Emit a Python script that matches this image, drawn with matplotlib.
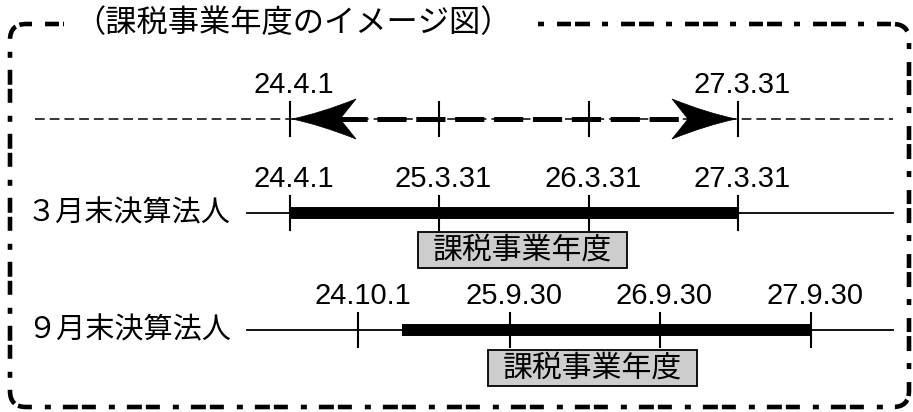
import matplotlib
matplotlib.use("Agg")
import matplotlib.pyplot as plt
import matplotlib.patches as mpatches
from matplotlib.path import Path

plt.rcParams['lines.scale_dashes'] = False
CJK = ['Noto Sans CJK JP', 'DejaVu Sans']
NUM = ['Liberation Sans', 'DejaVu Sans']

# ---- data (months counted from 24.4.1) ----
title = "（課税事業年度のイメージ図）"
period_label = "課税事業年度"

top_ticks = [0, 12, 24, 36]
top_labels = ["24.4.1", "27.3.31"]
top_label_pos = [0, 36]
top_arrow = (0, 36)

mar_name = "３月末決算法人"
mar_ticks = [0, 12, 24, 36]
mar_labels = ["24.4.1", "25.3.31", "26.3.31", "27.3.31"]
mar_bar = (0, 36)

sep_name = "９月末決算法人"
sep_ticks = [5.5, 17.7, 29.7, 41.9]
sep_labels = ["24.10.1", "25.9.30", "26.9.30", "27.9.30"]
sep_bar = (9, 41.9)

# ---- figure ----
W, H = 913, 412
fig = plt.figure(figsize=(W / 100, H / 100), dpi=100)
bg = fig.add_axes([0, 0, 1, 1])
bg.set_xlim(0, W)
bg.set_ylim(H, 0)
bg.axis('off')

PXM = 448 / 36.0          # pixels per month
X0 = 290                  # pixel of month 0
tl = fig.add_axes([0, 0, 1, 1])
tl.set_xlim(-X0 / PXM, (W - X0) / PXM)
tl.set_ylim(H, 0)
tl.axis('off')
tl.patch.set_alpha(0)

# border (rounded, dash-dot pattern)
pat = tuple(v * 0.72 for v in (6, 13, 14, 4, 15, 12))
border = mpatches.FancyBboxPatch((10, 24), 899, 383,
                                 boxstyle="round,pad=0,rounding_size=16",
                                 fill=False, lw=3.3, ec='black',
                                 linestyle=(0, pat), zorder=1)
bg.add_patch(border)
bg.add_patch(mpatches.Rectangle((64, 8), 464, 32, fc='white', ec='none', zorder=2))
bg.text(293, 23, title, fontsize=22.5, family=CJK, ha='center', va='center', zorder=3)

Y1, Y2, Y3 = 119, 213, 330
TICK = 17

# row 1: thin dashed line
bg.plot([35, 893], [Y1, Y1], color='black', lw=1.1,
        linestyle=(0, (7.0, 3.6)), zorder=3)
# rows 2,3 thin lines
for y in (Y2, Y3):
    bg.plot([247, 893], [y, y], color='black', lw=1.3, zorder=3)

# row labels
bg.text(27, Y2, mar_name, fontsize=21, family=CJK, ha='left', va='center')
bg.text(27, Y3, sep_name, fontsize=21, family=CJK, ha='left', va='center')

# period boxes
for (bx, by) in ((418, 232), (488, 350)):
    bg.add_patch(mpatches.Rectangle((bx, by), 209, 36, fc='#cdcdcd', ec='black', lw=1.3, zorder=3))
    bg.text(bx + 104.5, by + 18, period_label, fontsize=21.5, family=CJK,
            ha='center', va='center', zorder=4)

def ticks(ax, xs, y):
    for x in xs:
        ax.plot([x, x], [y - TICK, y + TICK], color='black', lw=1.5, zorder=5)

def labels(ax, xs, labs, y):
    for x, s in zip(xs, labs):
        ax.annotate(s, (x, y - 34), xytext=(4, 0), textcoords='offset pixels',
                    fontsize=21, family=NUM, ha='center', va='center')

# row 1: arrow
ticks(tl, top_ticks, Y1)
labels(tl, top_label_pos, top_labels, Y1)
a0, a1 = top_arrow
HL = 64 / PXM
NOTCH = 48 / PXM
HW = 20
tl.plot([a0 + NOTCH, a1 - NOTCH], [Y1, Y1], color='black', lw=3.6,
        linestyle=(0, (21, 7)), solid_capstyle='butt', zorder=4)

def head(tip, d):
    verts = [(tip, Y1),
             (tip + d * HL * 0.45, Y1 - HW * 0.3), (tip + d * HL, Y1 - HW),
             (tip + d * NOTCH, Y1),
             (tip + d * HL, Y1 + HW),
             (tip + d * HL * 0.45, Y1 + HW * 0.3), (tip, Y1),
             (tip, Y1)]
    codes = [Path.MOVETO, Path.CURVE3, Path.CURVE3, Path.LINETO, Path.LINETO,
             Path.CURVE3, Path.CURVE3, Path.CLOSEPOLY]
    tl.add_patch(mpatches.PathPatch(Path(verts, codes), fc='black', ec='black', lw=0.5, zorder=6))

head(a0 + 2 / PXM, 1)
head(a1 - 2 / PXM, -1)

# row 2
tl.plot(list(mar_bar), [Y2, Y2], color='black', lw=8.6, solid_capstyle='butt', zorder=4)
ticks(tl, mar_ticks, Y2)
labels(tl, mar_ticks, mar_labels, Y2)

# row 3
tl.plot(list(sep_bar), [Y3, Y3], color='black', lw=8.6, solid_capstyle='butt', zorder=4)
ticks(tl, sep_ticks, Y3)
labels(tl, sep_ticks, sep_labels, Y3)

fig.savefig("out.png", dpi=100)
